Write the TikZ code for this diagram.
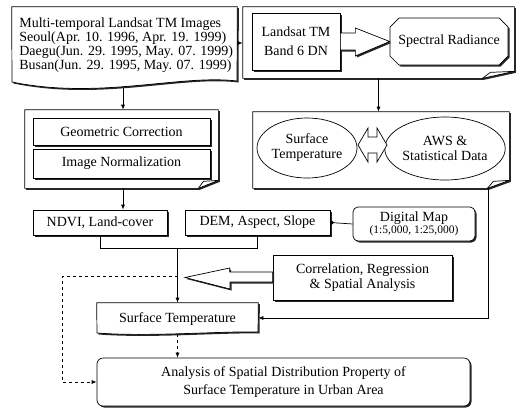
\documentclass[tikz,border=0pt]{standalone}
\usepackage{fontspec}
\setmainfont{Liberation Serif}
\usetikzlibrary{shapes.geometric,shadows,arrows.meta,calc}
\begin{document}
\begin{tikzpicture}[x=1pt,y=-1pt,line width=0.7pt,
  shd/.style={drop shadow={shadow xshift=1.5pt,shadow yshift=-1.5pt,fill=black!85,opacity=1}},
  box/.style={draw,fill=white,shd,inner sep=0pt,align=center,font=\fontsize{14}{15}\selectfont},
  txt/.style={inner sep=0pt,align=center,font=\fontsize{14}{15}\selectfont},
  arr/.style={-{Latex[length=5pt,width=4pt]}},
  ]
\useasboundingbox (0,0) rectangle (518,408);

% ---------- top left document ----------
\node[inner sep=0pt,minimum width=225pt,minimum height=72pt] (doc) at (124.5,43) {};
\draw[fill=white,shd] (doc.north west) -- (doc.north east) -- (237,81)
  .. controls (180,74) and (100,100) .. (12,82) -- cycle;
\node[txt,align=left,anchor=west,font=\fontsize{14}{14}\selectfont] (doctxt) at (19,45)
  {Multi-temporal Landsat TM Images\\Seoul(Apr. 10. 1996, Apr. 19. 1999)\\Daegu(Jun. 29. 1995, May. 07. 1999)\\Busan(Jun. 29. 1995, May. 07. 1999)};
\coordinate (docB) at (123,88);

% ---------- top right group ----------
\node[inner sep=0pt,minimum width=271pt,minimum height=71pt] (top) at (378.5,42.5) {};
\draw[fill=white,shd] (top.north west) -- (top.north east) -- ([yshift=7pt]top.south east)
  -- ([xshift=-32pt]top.south east) -- (top.south west) -- cycle;
\draw ([yshift=7pt]top.south east) -- ([xshift=-24pt,yshift=6pt]top.south east) -- ([xshift=-32pt]top.south east);
\node[box,minimum width=88pt,minimum height=57pt,font=\fontsize{14}{19}\selectfont] (band) at (296,41.5) {Landsat TM\\Band 6 DN};
\draw[fill=white,shd] (399,18) -- (499,18) -- (508,27) -- (508,56) -- (499,65) -- (399,65)
  -- (390,56) -- (390,27) -- cycle;
\node[txt,minimum width=118pt,minimum height=47pt] (spec) at (449,41.5) {Spectral Radiance};
\draw[fill=white,shd] ($(band.east)+(0,-8.5)$) -- ++(15,0) -- ++(0,-5) -- (spec.west)
  -- ($(band.east)+(15,14.5)$) -- ++(0,-6) -- ($(band.east)+(0,8.5)$) -- cycle;

% ---------- left group ----------
\node[inner sep=0pt,minimum width=193pt,minimum height=78pt] (lgrp) at (121.5,149) {};
\draw[fill=white,shd] (lgrp.north west) -- (lgrp.north east) -- ([yshift=8pt]lgrp.south east)
  -- ([xshift=-20pt]lgrp.south east) -- (lgrp.south west) -- cycle;
\draw ([yshift=8pt]lgrp.south east) -- ([xshift=-15pt,yshift=7pt]lgrp.south east) -- ([xshift=-20pt]lgrp.south east);
\node[box,minimum width=177pt,minimum height=27pt] (geo) at (121.5,131.5) {Geometric Correction};
\node[box,minimum width=177pt,minimum height=29pt] (norm) at (121.5,163.5) {Image Normalization};

% ---------- right group ----------
\node[inner sep=0pt,minimum width=256pt,minimum height=76pt] (rgrp) at (381,150) {};
\draw[fill=white,shd] (rgrp.north west) -- (rgrp.north east) -- ([yshift=8pt]rgrp.south east)
  -- ([xshift=-22pt]rgrp.south east) -- (rgrp.south west) -- cycle;
\draw ([yshift=8pt]rgrp.south east) -- ([xshift=-16pt,yshift=7pt]rgrp.south east) -- ([xshift=-22pt]rgrp.south east);
\node[draw,ellipse,inner sep=0pt,minimum width=100pt,minimum height=60pt,align=center,font=\fontsize{14}{15}\selectfont] (st1) at (307,148) {Surface\\Temperature};
\node[draw,ellipse,inner sep=0pt,minimum width=116pt,minimum height=63pt,align=center,font=\fontsize{14}{15}\selectfont] (aws) at (445,148.5) {AWS \&\\Statistical Data};
\draw[fill=white] (358,145) -- (368,128) -- (368,137) -- (377,137) -- (377,128) -- (387,145)
  -- (377,162) -- (377,153) -- (368,153) -- (368,162) -- cycle;

% ---------- middle row ----------
\node[box,minimum width=134pt,minimum height=25pt] (ndvi) at (100,222.5) {NDVI, Land-cover};
\node[box,minimum width=145pt,minimum height=25pt] (dem) at (257.5,222.5) {DEM, Aspect, Slope};
\node[box,rounded corners=5pt,minimum width=122pt,minimum height=34pt] (dmap) at (414,224)
  {Digital Map\\[-3pt]{\fontsize{11.5}{11.5}\selectfont (1:5,000, 1:25,000)}};
\node[box,minimum width=179pt,minimum height=45pt] (corr) at (362.5,277.5) {Correlation, Regression\\\& Spatial Analysis};
\draw[fill=white,shd] ($(corr.west)+(0,-5.5)$) -- ++(-43,0) -- ++(0,-4) -- (185,277.5)
  -- ++(45,11.5) -- ++(0,-7) -- ($(corr.west)+(0,4.5)$) -- cycle;

% ---------- bottom ----------
\node[inner sep=0pt,minimum width=161pt,minimum height=30pt] (st2) at (177.5,318) {};
\draw[fill=white,shd] (st2.north west) -- (st2.north east) -- (258,332)
  .. controls (220,331) and (150,337) .. (97,333) -- cycle;
\node[txt] (st2txt) at (177.5,319) {Surface Temperature};
\node[box,rounded corners=6pt,minimum width=373pt,minimum height=48pt,font=\fontsize{14}{18}\selectfont] (ana) at (283.5,382)
  {Analysis of Spatial Distribution Property of\\Surface Temperature in Urban Area};

% ---------- connectors ----------
\draw[arr] (doc.east) -- (doc.east -| top.west);
\draw[arr] (docB) -- (lgrp.north -| docB);
\draw[arr] (top.south) -- (rgrp.north -| top.south);
\draw[arr] (lgrp.south -| docB) -- (ndvi.north -| docB);
\draw (ndvi.south) -- ++(0,13) -| (dem.south);
\coordinate (br) at (177.5,248);
\coordinate (dj) at (177.5,276);
\coordinate (rx) at (488,0);
\draw[arr] (br) -- (st2.north);
\draw[arr,dashed] (dj) -- (62,276) -- (62,382) -- (ana.west);
\draw[arr,dashed] (st2.south) ++(0,1) -- (st2.south |- ana.north);
\draw[arr] (rgrp.south -| rx) |- (st2.east);
\draw[-{Circle[length=3.5pt]}] (dmap.west) -- (dem.east);
\end{tikzpicture}
\end{document}
